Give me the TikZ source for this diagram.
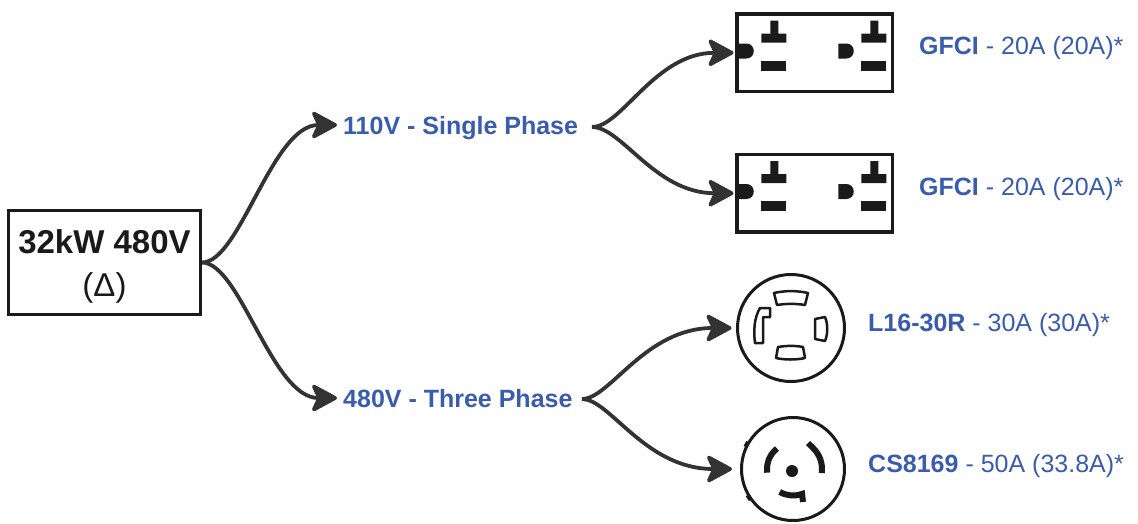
\documentclass[tikz,border=0pt]{standalone}
\usepackage{fontspec}
\setmainfont{Liberation Sans}
\usetikzlibrary{arrows.meta}
\definecolor{lblue}{RGB}{58,92,172}
\definecolor{wire}{RGB}{51,51,51}
\definecolor{ink}{RGB}{26,26,26}
\begin{document}
\begin{tikzpicture}[x=1pt,y=-1pt,
  wirearrow/.style={draw=wire, line width=3.8pt, -{Stealth[length=29pt,width=31pt,inset=7pt,round]}},
  mainbox/.style={draw=ink, line width=3.3pt, minimum width=191.7pt, minimum height=103.7pt, inner sep=0pt, align=center, text=ink, font=\fontsize{33}{43}\selectfont},
  midlabel/.style={text=lblue, font=\fontsize{25}{30}\selectfont\bfseries, inner sep=0pt, text height=18pt, text depth=0pt, anchor=base west},
  sidelabel/.style={text=lblue, font=\fontsize{25}{30}\selectfont, inner sep=0pt, anchor=base west},
  outletbox/.style={draw=ink, line width=3.5pt, minimum width=155.5pt, minimum height=77.5pt, inner sep=0pt},
  outletround/.style={draw=ink, line width=3pt, circle, inner sep=0pt},
  slotshape/.style={draw=ink, fill=white, line width=2.5pt, line join=round},
  cslot/.style={draw=ink, line width=6pt},
  notch/.style={draw=ink, line width=2pt},
  gfcipair/.pic={
    \foreach \dx in {0,100}{
      \begin{scope}[shift={(\dx,0)}]
        \fill[ink] (5,33) -- (13,33) .. controls (23,33) and (23,48) .. (13,48) -- (5,48) -- cycle;
        \fill[ink] (37,10) -- (45,10) -- (45,23) -- (53,23) -- (53,32) -- (28,32) -- (28,23) -- (37,23) -- cycle;
        \fill[ink] (28,50) rectangle (53,60);
      \end{scope}
    }
  }
]
\fill[white] (0,0) rectangle (1138,523);
\useasboundingbox (0,0) rectangle (1138,523);

% source
\node[mainbox] (src) at (104.5,262.5) {\rule{0pt}{31.5pt}\textbf{32kW 480V}\\(Δ)};

% middle labels
\node[midlabel] (single) at (343,134) {110V - Single Phase};
\node[midlabel] (three) at (343,407) {480V - Three Phase};

% outlets
\node[outletbox] (g1) at (814.5,52.75) {};
\node[outletbox] (g2) at (814.5,193.25) {};
\node[outletround, minimum size=107pt] (l16) at (791,328) {};
\node[outletround, minimum size=103pt] (cs) at (793,469) {};

\pic at ([shift={(-1.75,-1.75)}]g1.north west) {gfcipair};
\pic at ([shift={(-1.75,-1.75)}]g2.north west) {gfcipair};

% L16-30R slots
\begin{scope}[shift={(l16.center)}, y=1pt]
  \path[slotshape] (-17,35) .. controls (-6,37.5) and (6,37.5) .. (17,35) -- (14,23) .. controls (5,24.5) and (-5,24.5) .. (-14,23) -- cycle;
  \path[slotshape] (-13,-19) .. controls (-4,-17.5) and (4,-17.5) .. (12,-19) -- (14,-30) .. controls (5,-32) and (-6,-32) .. (-15,-30) -- cycle;
  \path[slotshape] (24,9) -- (34,11) .. controls (37,4) and (37,-6) .. (34,-13) -- (24,-11) -- cycle;
  \path[slotshape] (-36,-15) -- (-28,-15) -- (-28,11) -- (-21,11) -- (-21,20) -- (-31,20) .. controls (-37,10) and (-37.5,-3) .. (-36,-15) -- cycle;
\end{scope}

% CS8169 slots
\begin{scope}[shift={(cs.center)}, y=1pt]
  \draw[cslot] (128:26) arc[start angle=128, end angle=188, radius=26];
  \draw[cslot] (15,26) -- (45:29) arc[start angle=45, end angle=-8, radius=29];
  \draw[cslot] (240:26.5) arc[start angle=240, end angle=290, radius=26.5] -- (10,-33);
  \fill[ink] (-1,-2) circle (6);
  \draw[notch] (150:51.5) -- (150:53.5) arc[start angle=150, end angle=154, radius=53.5] -- (154:51.5);
  \draw[notch] (211:51.5) -- (211:53.5) arc[start angle=211, end angle=215, radius=53.5] -- (215:51.5);
\end{scope}

% side labels
\node[sidelabel] (g1t) at (919,54) {\textbf{GFCI} - 20A (20A)*};
\node[sidelabel] (g2t) at (919,195) {\textbf{GFCI} - 20A (20A)*};
\node[sidelabel] (l16t) at (868,331) {\textbf{L16-30R} - 30A (30A)*};
\node[sidelabel] (cst) at (868,472) {\textbf{CS8169} - 50A (33.8A)*};

% junctions
\coordinate (j1) at (592,127);
\coordinate (j2) at (582,399);

% connectors
\draw[wirearrow, shorten >=6pt] (src.east) .. controls (240,262.5) and (272,125) .. (single.west);
\draw[wirearrow, shorten >=6pt] (src.east) .. controls (240,262.5) and (272,398) .. (three.west);
\draw[wirearrow, shorten >=1.5pt] (j1) .. controls (622,127) and (655,52.75) .. (g1.west);
\draw[wirearrow, shorten >=1.5pt] (j1) .. controls (622,127) and (655,193.25) .. (g2.west);
\draw[wirearrow, shorten >=4.5pt] (j2) .. controls (610,399) and (645,328) .. (l16.west);
\draw[wirearrow, shorten >=8pt] (j2) .. controls (610,399) and (645,469) .. (cs.west);
\end{tikzpicture}
\end{document}
